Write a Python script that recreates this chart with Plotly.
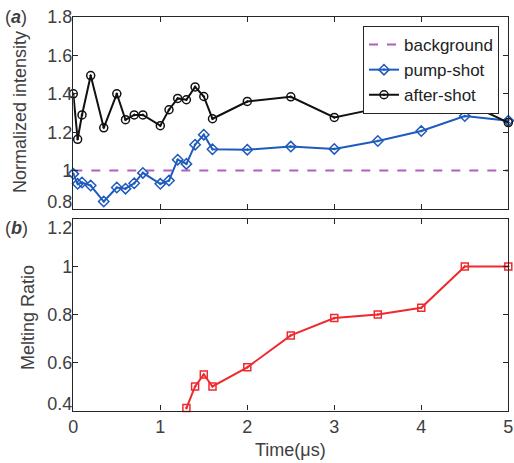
import plotly.graph_objects as go

# Time axis (microseconds)
t_shots = [0, 0.05, 0.1, 0.2, 0.35, 0.5, 0.6, 0.7, 0.8, 1.0, 1.1, 1.2, 1.3, 1.4,
           1.5, 1.6, 2.0, 2.5, 3.0, 3.5, 4.0, 4.5, 5.0]
pump_shot = [0.983, 0.931, 0.938, 0.922, 0.839, 0.912, 0.906, 0.934, 0.988, 0.931,
             0.948, 1.057, 1.035, 1.135, 1.187, 1.111, 1.109, 1.125, 1.113, 1.154,
             1.206, 1.284, 1.26]
after_shot = [1.40, 1.163, 1.29, 1.495, 1.223, 1.40, 1.265, 1.29, 1.29, 1.234,
              1.317, 1.376, 1.369, 1.436, 1.386, 1.27, 1.36, 1.384, 1.277, 1.324,
              1.334, 1.357, 1.25]
background_t = [0, 5]
background = [1.0, 1.0]

t_melt = [1.3, 1.4, 1.5, 1.6, 2.0, 2.5, 3.0, 3.5, 4.0, 4.5, 5.0]
melting_ratio = [0.41, 0.50, 0.55, 0.50, 0.58, 0.713, 0.785, 0.80, 0.828, 1.0, 1.0]

x_ticks = [0, 1, 2, 3, 4, 5]
top_y_ticks = [0.8, 1.0, 1.2, 1.4, 1.6, 1.8]
top_y_labels = ["0.8", "1", "1.2", "1.4", "1.6", "1.8"]
bot_y_ticks = [0.4, 0.6, 0.8, 1.0, 1.2]
bot_y_labels = ["0.4", "0.6", "0.8", "1", "1.2"]
# label positions nudged inward at the edges where the two panels meet
top_y_label_pos = [0.839, 1.0, 1.2, 1.4, 1.6, 1.8]
bot_y_label_pos = [0.427, 0.6, 0.8, 1.0, 1.16]

W, H = 514, 463
FONT = "Liberation Sans, Arial, sans-serif"
AXC = "#262626"
TXC = "#404040"
BLUE = "#1f5bbd"
RED = "#ee2a2e"
PURPLE = "#b25fc4"

x0, x1 = 73.3 / W, 508.3 / W
top_dom = [1 - 209 / H, 1 - 17 / H]
bot_dom = [1 - 410.5 / H, 1 - 218.5 / H]

fig = go.Figure()

fig.add_trace(go.Scatter(
    x=background_t, y=background, name="background", mode="lines",
    line=dict(color=PURPLE, width=2, dash="dash"), xaxis="x", yaxis="y"))
fig.add_trace(go.Scatter(
    x=t_shots, y=pump_shot, name="pump-shot", mode="lines+markers",
    line=dict(color=BLUE, width=2),
    marker=dict(symbol="diamond-open-dot", size=8, color=BLUE, line=dict(width=1.5)),
    cliponaxis=False, xaxis="x", yaxis="y"))
fig.add_trace(go.Scatter(
    x=t_shots, y=after_shot, name="after-shot", mode="lines+markers",
    line=dict(color="#111111", width=2),
    marker=dict(symbol="circle-open-dot", size=8, color="#111111", line=dict(width=1.5)),
    cliponaxis=False, xaxis="x", yaxis="y"))
fig.add_trace(go.Scatter(
    x=t_melt, y=melting_ratio, name="melting", mode="lines+markers",
    line=dict(color=RED, width=2),
    marker=dict(symbol="square-open-dot", size=7, color=RED, line=dict(width=1.5)),
    cliponaxis=False, showlegend=False, xaxis="x2", yaxis="y2"))

axis_common = dict(
    showline=True, linecolor=AXC, linewidth=1.2, mirror="ticks",
    ticks="inside", ticklen=5, tickcolor=AXC, tickwidth=1.2,
    showgrid=False, zeroline=False, automargin=False,
    tickfont=dict(family=FONT, size=18, color=TXC),
)
# label-only axes laid over the y axes
label_axis = dict(
    showline=False, ticks="", showgrid=False, zeroline=False, automargin=False,
    side="left", tickfont=dict(family=FONT, size=18, color=TXC),
)

fig.update_layout(
    width=W, height=H,
    margin=dict(l=0, r=0, t=0, b=0, autoexpand=False),
    paper_bgcolor="white", plot_bgcolor="white",
    font=dict(family=FONT, size=18, color=TXC),
    xaxis=dict(domain=[x0, x1], range=[0, 5], tickvals=x_ticks,
               showticklabels=False, anchor="y", **axis_common),
    yaxis=dict(domain=top_dom, range=[0.8, 1.8], tickvals=top_y_ticks,
               showticklabels=False, anchor="x", **axis_common),
    yaxis3=dict(overlaying="y", range=[0.8, 1.8], tickvals=top_y_label_pos,
                ticktext=top_y_labels, anchor="x", **label_axis),
    xaxis2=dict(domain=[x0, x1], range=[0, 5], tickvals=x_ticks,
                ticktext=[str(v) for v in x_ticks], anchor="y2", **axis_common),
    yaxis2=dict(domain=bot_dom, range=[0.4, 1.2], tickvals=bot_y_ticks,
                showticklabels=False, anchor="x2", **axis_common),
    yaxis4=dict(overlaying="y2", range=[0.4, 1.2], tickvals=bot_y_label_pos,
                ticktext=bot_y_labels, anchor="x2", **label_axis),
    legend=dict(
        x=499 / W, y=1 - 26 / H, xanchor="right", yanchor="top",
        bgcolor="white", bordercolor=AXC, borderwidth=1,
        font=dict(family=FONT, size=17, color="#222222"),
        tracegroupgap=0, itemwidth=30,
    ),
    showlegend=True,
)

# invisible anchor traces so the label-only axes get drawn
fig.add_trace(go.Scatter(x=[None], y=[None], xaxis="x", yaxis="y3",
                         showlegend=False, hoverinfo="skip"))
fig.add_trace(go.Scatter(x=[None], y=[None], xaxis="x2", yaxis="y4",
                         showlegend=False, hoverinfo="skip"))

annotations = [
    dict(text="(<b><i>a</i></b>)", x=3 / W, y=1 - 17 / H, xanchor="left",
         yanchor="middle"),
    dict(text="(<b><i>b</i></b>)", x=3 / W, y=1 - 228 / H, xanchor="left",
         yanchor="middle"),
    dict(text="Normalized intensity", x=20 / W, y=1 - 112 / H, textangle=-90,
         xanchor="center", yanchor="middle"),
    dict(text="Melting Ratio", x=28 / W, y=1 - 318 / H, textangle=-90,
         xanchor="center", yanchor="middle"),
    dict(text="Time(μs)", x=290 / W, y=1 - 450 / H, xanchor="center",
         yanchor="middle"),
]
for a in annotations:
    a.update(xref="paper", yref="paper", showarrow=False,
             font=dict(family=FONT, size=18, color=TXC))
fig.update_layout(annotations=annotations)

fig.write_html("out.html")
